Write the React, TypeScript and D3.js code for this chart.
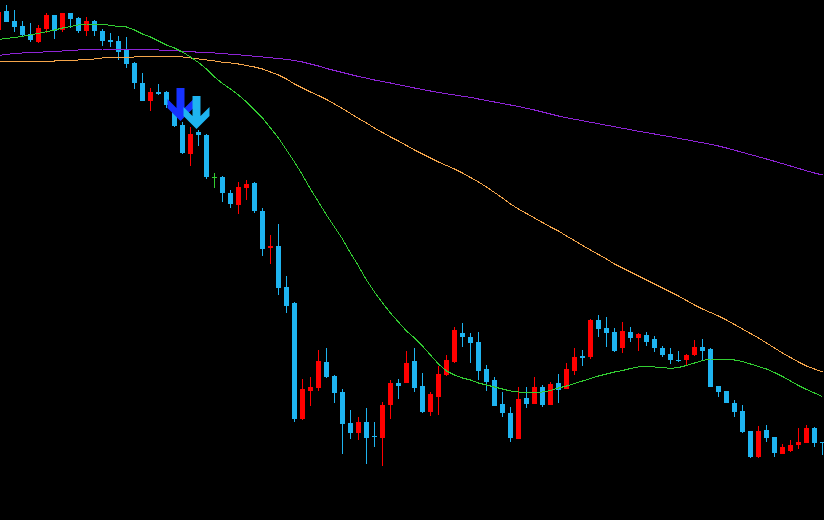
import React from 'react';
import { scaleLinear, line } from 'd3';

const W = 824;
const H = 520;

// one bar every 8px, first bar partly off the left edge
const open = [
  970, 989, 979, 974, 966, 958, 971, 985, 970, 987, 982, 969, 979, 969, 960, 959, 951, 937, 917, 899,
  908, 908, 892, 875, 846, 868, 865, 823, 823, 807, 795, 812, 817, 789, 752, 754, 713, 697, 581, 609,
  612, 638, 624, 608, 577, 567, 578, 564, 562, 595, 617, 617, 639, 614, 588, 603, 625, 638, 667, 663,
  658, 631, 620, 596, 587, 561, 602, 596, 613, 595, 617, 611, 629, 644, 643, 680, 672, 668, 652, 668,
  662, 665, 661, 652, 646, 640.5, 640, 645, 653, 651, 614, 609, 597, 589, 569, 543, 570, 563, 546, 549,
  555, 557, 572, 558,
];
const high = [
  990, 995, 990, 979, 977, 975, 987, 985, 987, 987, 983, 983, 980, 971, 967, 964, 963, 938, 927, 912,
  916, 909, 893, 878, 873, 870, 866, 827, 824, 810, 818, 820, 818, 792, 765, 776, 724, 698, 621, 623,
  650, 652, 625, 611, 590, 583, 592, 578, 598, 620, 621, 649, 652, 627, 608, 634, 645, 673, 677, 667,
  668, 635, 623, 608, 593, 613, 613, 623, 615, 618, 626, 637, 652, 650, 681, 685, 683, 672, 678, 673,
  667, 668, 664, 654, 652, 649, 646, 660, 661, 652, 614, 609, 600, 595, 569, 574, 575, 563, 556, 560,
  572, 575, 573, 558,
];
const low = [
  968, 978, 968, 963, 958, 957, 967, 961, 968, 972, 967, 964, 964, 954, 953, 940, 932, 911, 899, 889,
  905, 892, 873, 846, 834, 854, 821, 812, 798, 792, 786, 800, 787, 744, 736, 705, 687, 578, 580, 594,
  609, 622, 597, 546, 561, 560, 536, 553, 534, 581, 601, 617, 608, 587, 584, 585, 624, 637, 653, 637,
  620, 609, 594, 583, 558, 561, 592, 596, 593, 595, 597, 611, 625, 634, 641, 663, 653, 648, 647, 658,
  649, 654, 648, 643, 636, 638, 634, 644, 640, 613, 603, 597, 583, 567, 542, 542, 558, 543, 546, 548,
  551, 557, 553, 545,
];
const close = [
  988, 978, 973, 965, 960, 972, 985, 969, 987, 981, 969, 979, 969, 959, 958, 948, 936, 917, 899, 908,
  906, 895, 874, 847, 866, 865, 823, 823, 807, 796, 813, 816, 789, 751, 754, 712, 694, 581, 611, 613,
  639, 623, 607, 576, 567, 578, 562, 563, 595, 617, 614, 637, 612, 588, 606, 626, 640, 670, 663, 657,
  629, 618, 594, 587, 562, 601, 596, 613, 595, 616, 610, 631, 643, 642, 680, 671, 667, 649, 669, 662,
  666, 658, 652, 645, 640, 640, 645, 653, 649, 613, 608, 597, 588, 568, 543, 569, 562, 547, 553, 555,
  558, 572, 557, 557,
];

// moving averages, one value per bar
const maFast = [
  960.5, 961.5, 962.5, 963.7, 965, 966.7, 968.2, 970, 972, 973.5, 975, 976, 976, 976, 974.5, 973.5, 973, 970, 966, 963,
  959, 955, 952, 948, 943, 937.5, 931, 923, 916.5, 911, 905, 898, 890, 882, 872, 862, 850, 838, 825, 811,
  798, 785, 773, 761, 747, 734, 720, 708, 697, 687, 678, 669, 662, 654, 645, 636, 629, 625, 622, 620,
  617, 615, 613, 611, 609, 608, 607.5, 607.5, 608, 609.5, 612, 614, 616.5, 619, 621.5, 624, 626, 628, 629.5, 631.5,
  633, 633.5, 633, 632.5, 631.5, 632.5, 634.5, 637, 639.5, 641, 641, 641, 640, 638.5, 636, 633.5, 631, 627.5, 623.5, 619,
  614.5, 610.5, 607, 603.5,
];
const maMid = [
  939, 939, 939, 939, 939, 939, 939, 939, 939.5, 939.7, 940, 940.5, 941, 942, 942.3, 942.5, 942.7, 943, 943.2, 943.3,
  943.3, 943.3, 943.3, 943, 942, 941, 940, 939, 937.7, 937, 936, 934.5, 933, 931, 928, 925, 921, 916, 912, 908,
  904.5, 900.5, 896, 891.5, 886.5, 881.5, 877, 872, 867.5, 863, 859, 854.5, 850, 846, 842, 838, 834.5, 831, 827, 822.5,
  818, 813, 807.5, 802, 796, 791, 786.5, 782, 777.5, 773, 769, 764, 759.5, 754.5, 750, 745.5, 741, 736, 732, 728,
  724, 720, 716, 712, 708, 704, 699.5, 695, 691, 687.5, 684, 680, 675.5, 671, 666.5, 662, 657, 652, 647, 642.5,
  638, 634, 631, 628,
];
const maSlow = [
  944.5, 945.5, 946.5, 947, 947.3, 947.7, 948.2, 948.7, 949, 949.5, 950, 950.5, 950.8, 951, 951, 951, 951, 950.8, 950.6, 950.3,
  950, 949.6, 949.2, 948.8, 948.3, 947.8, 947.4, 947, 946.5, 945.8, 945.2, 944.5, 943.8, 943, 942.2, 941.5, 940.5, 939.5, 938, 936,
  934, 931.5, 929.5, 927.5, 925.5, 923.5, 921.8, 920, 918.5, 917, 915.3, 913.7, 912, 910.5, 909, 907.5, 906.2, 905, 903.8, 902.7,
  901, 899.5, 898, 896.5, 895, 893.5, 891.7, 890, 888, 886, 884, 882.3, 880.8, 879.3, 877.8, 876.3, 874.8, 873.3, 871.8, 870.3,
  868.8, 867.4, 866, 864.6, 863.2, 861.7, 860.2, 858.7, 857.2, 855.7, 854, 852, 849.8, 847.6, 845.4, 843.2, 841, 838.7, 836.4, 834,
  831.6, 829.2, 827, 825,
];

// sell arrows: bar index and price of the arrow tip
const signalBars = [23, 25];
const signalPrices = [879, 871];
const signalColors = ['#1632ff', '#1eb4f0'];

const BEAR = '#1eb4f0';
const BULL = '#ff0000';
const DOJI = '#32cd32';

const arrowShape = [
  [-4, -33], [4, -33], [4, -13], [13, -22], [13, -13], [0, 0],
  [-13, -13], [-13, -22], [-4, -13],
];

export default function App() {
  const x = scaleLinear().domain([0, open.length - 1]).range([-1.5, 822.5]);
  const y = scaleLinear().domain([1000, 480]).range([0, H]);

  const maLine = line<number>()
    .x((_, i) => x(i))
    .y((d) => y(d));

  return (
    <div>
      <style>{'body{margin:0;background:#000}'}</style>
      <svg width={W} height={H} style={{ display: 'block', background: '#000' }}>
        <g shapeRendering="crispEdges">
          {open.map((o, i) => {
            const c = close[i];
            const cx = x(i);
            const color = o === c ? DOJI : c > o ? BULL : BEAR;
            const top = y(Math.max(o, c));
            const bot = y(Math.min(o, c));
            return (
              <g key={i} fill={color}>
                <rect x={cx - 0.5} y={y(high[i])} width={1} height={y(low[i]) - y(high[i])} />
                <rect x={cx - 2.5} y={top} width={5} height={Math.max(1, bot - top)} />
              </g>
            );
          })}
        </g>
        <g fill="none" strokeWidth={1} shapeRendering="crispEdges">
          <path d={maLine(maSlow) || ''} stroke="#8e24d6" />
          <path d={maLine(maMid) || ''} stroke="#f5a54a" />
          <path d={maLine(maFast) || ''} stroke="#32cd32" />
        </g>
        {signalBars.map((b, i) => (
          <polygon
            key={i}
            points={arrowShape.map(([dx, dy]) => `${x(b) - 2 + dx},${y(signalPrices[i]) + dy}`).join(' ')}
            fill={signalColors[i]}
          />
        ))}
      </svg>
    </div>
  );
}
